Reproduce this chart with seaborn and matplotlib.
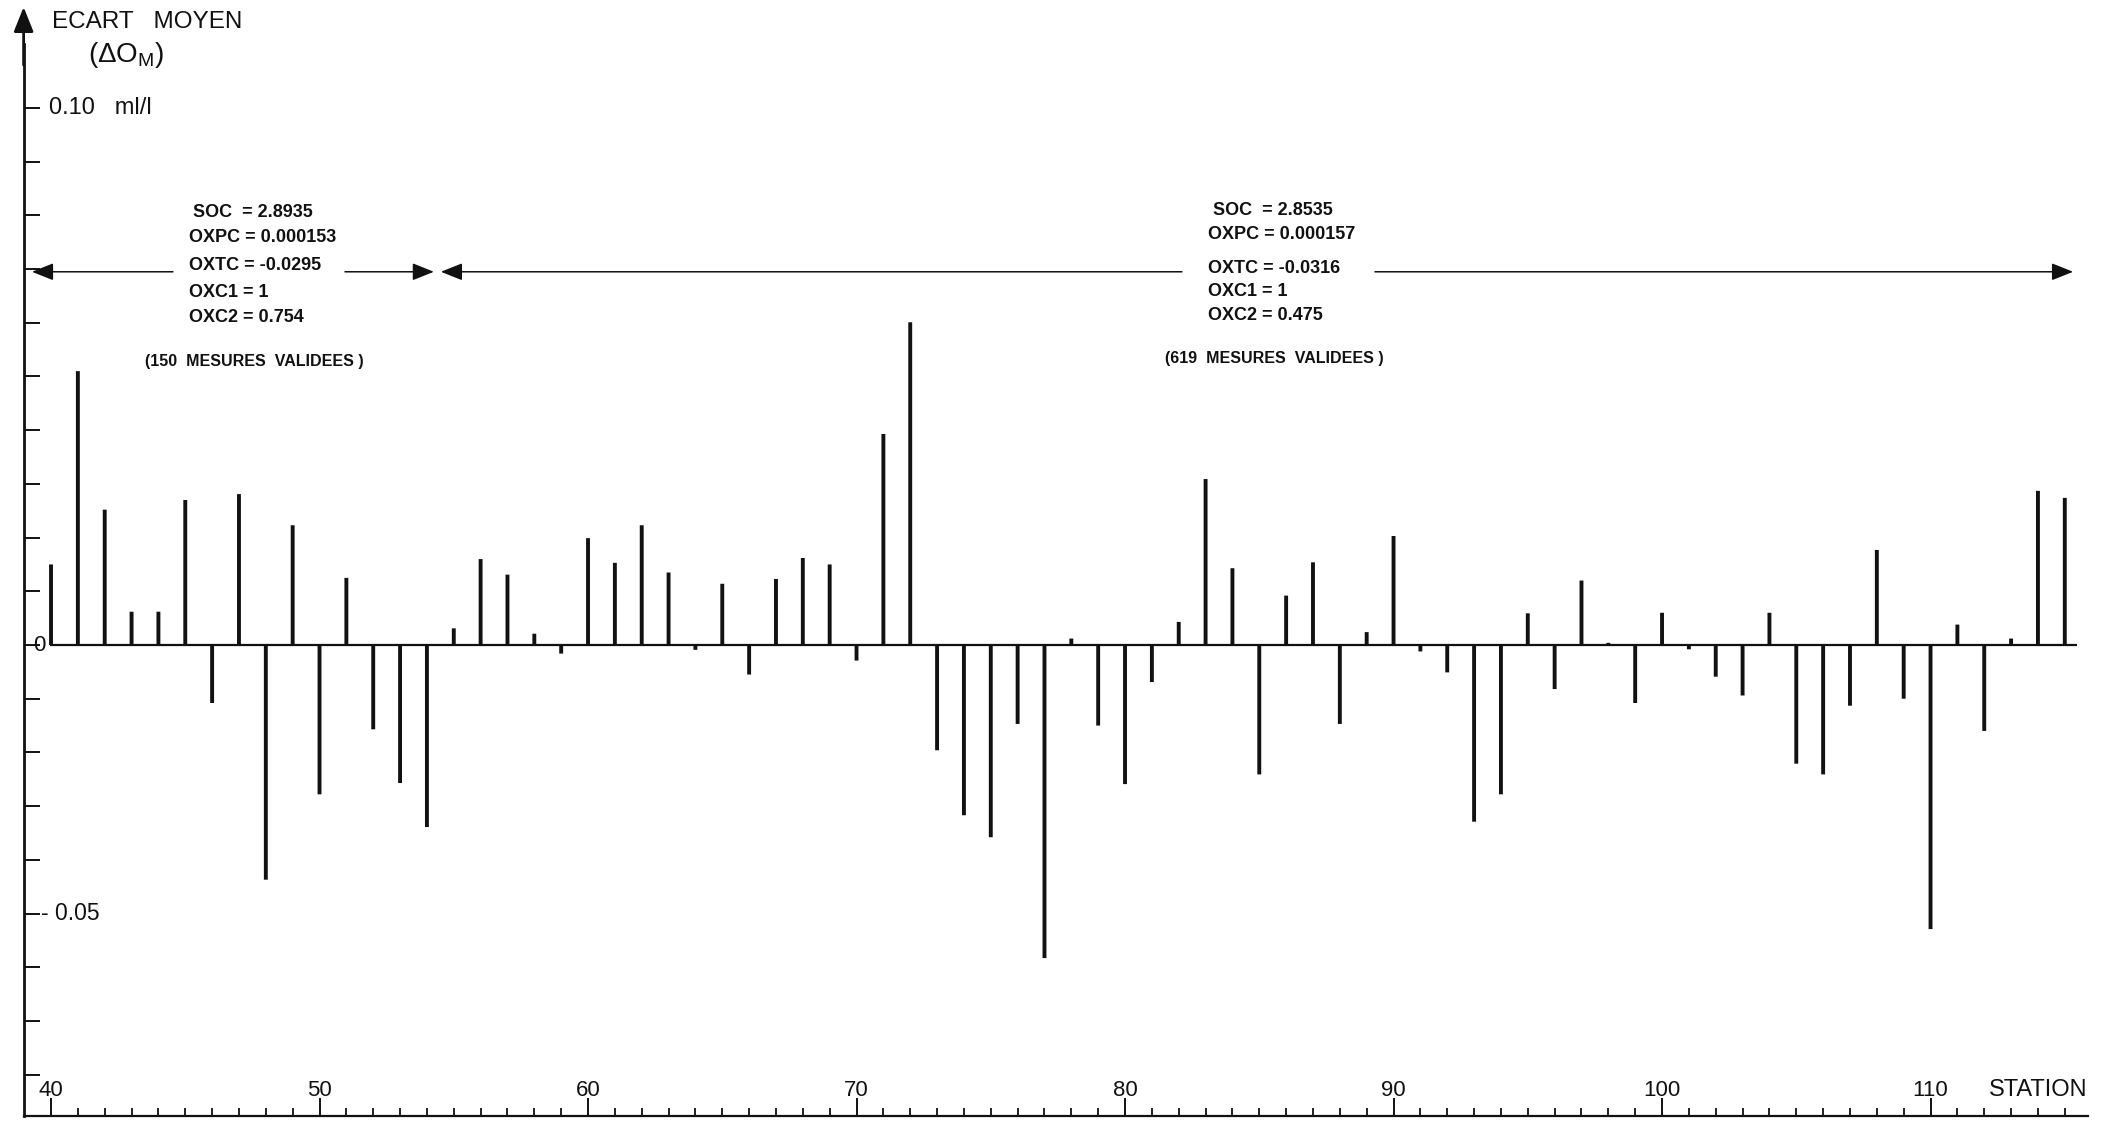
import matplotlib
matplotlib.use("Agg")
import matplotlib.pyplot as plt
from matplotlib.ticker import FixedLocator
import numpy as np
import pandas as pd
import seaborn as sns

# Mean oxygen deviation per station (ml/l)
stations = list(range(40, 116))
ecart = [
    0.0150, 0.0510, 0.0252, 0.0062, 0.0062, 0.0270, -0.0108, 0.0281, -0.0437, 0.0223,   # 40-49
    -0.0278, 0.0125, -0.0157, -0.0257, -0.0339, 0.0031, 0.0160, 0.0131, 0.0021, -0.0016,  # 50-59
    0.0199, 0.0153, 0.0223, 0.0135, -0.0009, 0.0114, -0.0055, 0.0123, 0.0162, 0.0150,    # 60-69
    -0.0029, 0.0393, 0.0601, -0.0196, -0.0317, -0.0358, -0.0147, -0.0583, 0.0012, -0.0150,  # 70-79
    -0.0259, -0.0069, 0.0043, 0.0309, 0.0143, -0.0241, 0.0092, 0.0154, -0.0147, 0.0024,  # 80-89
    0.0203, -0.0012, -0.0051, -0.0329, -0.0278, 0.0059, -0.0082, 0.0120, 0.0004, -0.0108,  # 90-99
    0.0060, -0.0008, -0.0059, -0.0094, 0.0060, -0.0221, -0.0241, -0.0113, 0.0177, -0.0100,  # 100-109
    -0.0529, 0.0038, -0.0160, 0.0012, 0.0287, 0.0274,                                     # 110-115
]

x_major = [40, 50, 60, 70, 80, 90, 100, 110]
y_ticks = [round(v, 2) for v in np.arange(-0.08, 0.1001, 0.01)]

left_block = ["SOC  = 2.8935", "OXPC = 0.000153", "OXTC = -0.0295", "OXC1 = 1", "OXC2 = 0.754"]
right_block = ["SOC  = 2.8535", "OXPC = 0.000157", "OXTC = -0.0316", "OXC1 = 1", "OXC2 = 0.475"]
left_count = "(150  MESURES  VALIDEES )"
right_count = "(619  MESURES  VALIDEES )"

sns.set_theme(style="white")
plt.rcParams["font.family"] = ["Liberation Sans", "DejaVu Sans"]
plt.rcParams["mathtext.fontset"] = "custom"
plt.rcParams["mathtext.rm"] = "Liberation Sans"
INK = "#111111"

df = pd.DataFrame({"station": stations, "ecart": ecart})

fig = plt.figure(figsize=(21.15, 11.26), dpi=100)
ax = fig.add_axes([0, 0, 1, 1])

sns.barplot(data=df, x="station", y="ecart", native_scale=True, width=0.145,
            color=INK, linewidth=0, errorbar=None, ax=ax)
for bar in ax.patches:
    bar.set_snap(False)

XL, XR = 38.10, 116.87
YB, YT = -0.08957, 0.12011
AX_X = 38.98          # position of the vertical axis (station units)
AX_Y = -0.0878        # position of the horizontal axis (ml/l)
ax.set_xlim(XL, XR)
ax.set_ylim(YB, YT)
ax.set_xlabel("")
ax.set_ylabel("")
ax.set_facecolor("white")

# zero reference line
ax.plot([39.95, 115.46], [0, 0], color=INK, lw=1.6, solid_capstyle="butt")

# axes as crossing spines
for s in ("top", "right"):
    ax.spines[s].set_visible(False)
ax.spines["left"].set_position(("data", AX_X))
ax.spines["bottom"].set_position(("data", AX_Y))
ax.spines["left"].set_bounds(AX_Y, 0.112)
ax.spines["bottom"].set_bounds(AX_X, 115.87)
ax.spines["left"].set_linewidth(2.0)
ax.spines["bottom"].set_linewidth(1.6)
ax.spines["left"].set_color(INK)
ax.spines["bottom"].set_color(INK)

# arrow head on the vertical axis
ax.annotate("", xy=(AX_X, 0.1188), xytext=(AX_X, 0.108),
            arrowprops=dict(arrowstyle="-|>,head_length=0.5,head_width=0.2",
                            mutation_scale=30, color=INK, lw=2.0,
                            shrinkA=0, shrinkB=0))

ax.set_yticks(y_ticks)
ax.set_yticklabels([])
ax.tick_params(axis="y", direction="in", length=11.5, width=1.4, color=INK, left=True)

ax.xaxis.set_major_locator(FixedLocator(x_major))
ax.xaxis.set_minor_locator(FixedLocator([s for s in stations if s % 10 and s > 40]))
ax.set_xticklabels([])
ax.tick_params(axis="x", which="major", direction="in", length=13, width=1.4,
               color=INK, bottom=True)
ax.tick_params(axis="x", which="minor", direction="in", length=6, width=1.3,
               color=INK, bottom=True)
ax.grid(False)

# axis labels
for st in x_major:
    ax.text(st, -0.0829, str(st), ha="center", va="center", fontsize=16, color=INK)
ax.text(114.0, -0.0829, "STATION", ha="center", va="center", fontsize=17, color=INK)

ax.text(40.04, 0.1160, "ECART   MOYEN", ha="left", va="center", fontsize=17.5, color=INK)
ax.text(42.80, 0.1099, r"($\Delta$O$_{\mathrm{M}}$)", ha="center", va="center",
        fontsize=20, color=INK)
ax.text(39.92, 0.1000, "0.10   ml/l", ha="left", va="center", fontsize=17, color=INK)
ax.text(39.55, 0.0, "0", ha="center", va="center", fontsize=16, color=INK)
ax.text(39.62, -0.0500, "- 0.05", ha="left", va="center", fontsize=16.5, color=INK)

# calibration periods: double arrows broken around the coefficient blocks
ARROW_Y = 0.0695
head = dict(arrowstyle="-|>,head_length=0.55,head_width=0.22", mutation_scale=24,
            color=INK, lw=1.1, shrinkA=0, shrinkB=0)
for tip, inner in [(39.29, 44.54), (54.26, 50.95), (54.52, 82.12), (115.31, 89.31)]:
    ax.annotate("", xy=(tip, ARROW_Y), xytext=(inner, ARROW_Y), arrowprops=head)

left_y = [0.0806, 0.0758, 0.0706, 0.0657, 0.0609]
left_x = [45.29, 45.14, 45.14, 45.14, 45.14]
for tx, ty, s in zip(left_x, left_y, left_block):
    ax.text(tx, ty, s, ha="left", va="center", fontsize=13, fontweight="bold", color=INK)
ax.text(43.50, 0.0527, left_count, ha="left", va="center", fontsize=11.5,
        fontweight="bold", color=INK)

right_y = [0.0810, 0.0764, 0.0702, 0.0659, 0.0613]
right_x = [83.28, 83.09, 83.09, 83.09, 83.09]
for tx, ty, s in zip(right_x, right_y, right_block):
    ax.text(tx, ty, s, ha="left", va="center", fontsize=13, fontweight="bold", color=INK)
ax.text(81.49, 0.0534, right_count, ha="left", va="center", fontsize=11.5,
        fontweight="bold", color=INK)

fig.savefig("out.png", dpi=100, facecolor="white")
